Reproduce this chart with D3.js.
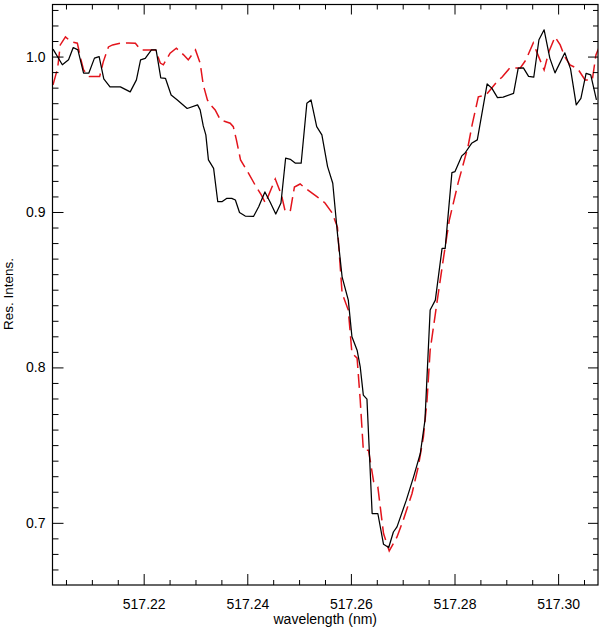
<!DOCTYPE html>
<html>
<head>
<meta charset="utf-8">
<script src="https://cdn.jsdelivr.net/npm/d3@7"></script>
<style>
  html, body { margin: 0; padding: 0; background: #fff; }
  svg { display: block; }
  text { font-family: "Liberation Sans", Arial, Helvetica, sans-serif; fill: #000; }
</style>
</head>
<body>
<svg id="chart" width="600" height="633"></svg>
<script>
// ---- data ----
const obsWave = [517.2025,517.2043,517.2055,517.2064,517.2073,517.2084,517.2094,517.2105,517.2114,517.2123,
  517.2135,517.2155,517.2174,517.2186,517.2194,517.2203,517.2215,517.2224,517.2233,517.2242,
  517.2253,517.2265,517.2284,517.2304,517.2309,517.2315,517.2320,517.2325,517.2335,517.2343,
  517.2351,517.2360,517.2370,517.2377,517.2385,517.2396,517.2412,517.2422,517.2434,517.2444,
  517.2455,517.2465,517.2474,517.2483,517.2493,517.2504,517.2515,517.2523,517.2534,517.2544,
  517.2555,517.2565,517.2574,517.2583,517.2595,517.2602,517.2612,517.2618,517.2624,517.2631,
  517.2641,517.2652,517.2663,517.2673,517.2682,517.2689,517.2707,517.2721,517.2734,517.2743,
  517.2753,517.2763,517.2776,517.2782,517.2795,517.2801,517.2814,517.2820,517.2833,517.2844,
  517.2863,517.2872,517.2883,517.2894,517.2914,517.2923,517.2933,517.2943,517.2953,517.2963,
  517.2973,517.2984,517.2994,517.3013,517.3024,517.3035,517.3044,517.3054,517.3063,517.3074];
const obsInt = [1.0048,0.9947,0.9979,1.0058,1.0043,0.9893,0.9893,0.9990,1.0000,0.9856,
  0.9805,0.9805,0.9773,0.9850,0.9979,0.9988,1.0043,1.0043,0.9863,0.9860,
  0.9753,0.9721,0.9666,0.9689,0.9657,0.9554,0.9496,0.9335,0.9281,0.9066,
  0.9066,0.9087,0.9088,0.9077,0.8997,0.8974,0.8971,0.9034,0.9129,0.9064,
  0.8987,0.9058,0.9346,0.9339,0.9314,0.9314,0.9700,0.9721,0.9549,0.9496,
  0.9292,0.9185,0.8863,0.8583,0.8433,0.8197,0.8111,0.8004,0.7822,0.7796,
  0.7060,0.7060,0.6862,0.6841,0.6941,0.6974,0.7146,0.7296,0.7446,0.7661,
  0.8369,0.8433,0.8766,0.8766,0.9253,0.9260,0.9361,0.9378,0.9442,0.9464,
  0.9824,0.9797,0.9736,0.9739,0.9763,0.9925,0.9927,0.9873,0.9867,1.0108,
  1.0172,0.9990,0.9895,1.0024,0.9921,0.9689,0.9731,0.9892,0.9882,0.9721];

const synWave = [517.2025,517.2034,517.2039,517.2049,517.2059,517.2072,517.2078,517.2084,517.2095,517.2115,
  517.2122,517.2132,517.2140,517.2155,517.2171,517.2184,517.2194,517.2213,517.2223,517.2232,
  517.2238,517.2251,517.2263,517.2277,517.2286,517.2300,517.2309,517.2315,517.2323,517.2329,
  517.2338,517.2348,517.2367,517.2373,517.2379,517.2387,517.2402,517.2415,517.2427,517.2435,
  517.2454,517.2466,517.2473,517.2483,517.2491,517.2502,517.2514,517.2535,517.2550,517.2564,
  517.2574,517.2583,517.2595,517.2602,517.2612,517.2618,517.2624,517.2634,517.2644,517.2652,
  517.2663,517.2674,517.2689,517.2701,517.2718,517.2730,517.2740,517.2747,517.2753,517.2766,
  517.2779,517.2790,517.2807,517.2826,517.2834,517.2846,517.2861,517.2880,517.2892,517.2907,
  517.2927,517.2938,517.2952,517.2961,517.2973,517.2982,517.2994,517.3004,517.3013,517.3023,
  517.3038,517.3052,517.3066,517.3073,517.3081];
const synInt = [0.9818,0.9927,1.0075,1.0127,1.0097,1.0086,0.9992,0.9914,0.9871,0.9871,
  0.9966,1.0062,1.0075,1.0086,1.0088,1.0086,1.0043,1.0043,1.0043,0.9958,
  0.9947,1.0022,1.0054,1.0011,0.9979,1.0043,0.9958,0.9818,0.9721,0.9689,
  0.9657,0.9592,0.9571,0.9549,0.9464,0.9335,0.9251,0.9174,0.9110,0.9058,
  0.9212,0.9110,0.9006,0.9006,0.9161,0.9180,0.9148,0.9097,0.9058,0.8993,
  0.8903,0.8478,0.8369,0.8092,0.8060,0.7790,0.7467,0.7467,0.7263,0.7231,
  0.6931,0.6819,0.6909,0.7017,0.7189,0.7360,0.7553,0.7789,0.8111,0.8414,
  0.8710,0.8948,0.9187,0.9419,0.9560,0.9741,0.9753,0.9831,0.9869,0.9927,
  0.9927,0.9979,1.0088,1.0011,0.9914,1.0030,1.0127,1.0075,0.9998,0.9947,
  0.9921,0.9850,0.9850,1.0011,1.0075];

const xMajorTicks = [517.22, 517.24, 517.26, 517.28, 517.30];
const xTickLabels = ["517.22", "517.24", "517.26", "517.28", "517.30"];
const yMajorTicks = [0.7, 0.8, 0.9, 1.0];
const yTickLabels = ["0.7", "0.8", "0.9", "1.0"];
const xDomain = [517.2024, 517.3077];
const yDomain = [0.66, 1.0335];

// ---- layout ----
const L = 52.5, R = 598, T = 4.5, B = 585;
const svg = d3.select("#chart");
const x = d3.scaleLinear().domain(xDomain).range([L, R]);
const y = d3.scaleLinear().domain(yDomain).range([B, T]);

// minor ticks
const xMinor = d3.range(517.200, 517.310, 0.005).map(v => +v.toFixed(3))
  .filter(v => v > xDomain[0] && v < xDomain[1] && !xMajorTicks.some(m => Math.abs(m - v) < 1e-6));
const yMinor = d3.range(0.66, 1.04, 0.01).map(v => +v.toFixed(2))
  .filter(v => v > yDomain[0] && v < yDomain[1] && !yMajorTicks.some(m => Math.abs(m - v) < 1e-6));

// clip
svg.append("defs").append("clipPath").attr("id", "plotclip")
  .append("rect").attr("x", L).attr("y", T).attr("width", R - L).attr("height", B - T);

// data lines
const line = d3.line().x(d => x(d[0])).y(d => y(d[1]));
const plot = svg.append("g").attr("clip-path", "url(#plotclip)");
plot.append("path")
  .datum(synWave.map((w, i) => [w, synInt[i]]))
  .attr("d", line).attr("fill", "none")
  .attr("stroke", "#e3141c").attr("stroke-width", 1.5)
  .attr("stroke-dasharray", "14,6");
plot.append("path")
  .datum(obsWave.map((w, i) => [w, obsInt[i]]))
  .attr("d", line).attr("fill", "none")
  .attr("stroke", "#000").attr("stroke-width", 1.25)
  .attr("stroke-linejoin", "round");

// axes helper
function styleAxis(g) {
  g.select(".domain").remove();
  g.selectAll("line").attr("stroke", "#000").attr("stroke-width", 1);
  g.selectAll("text").style("font-size", "14px").attr("fill", "#000")
   .style("font-family", '"Liberation Sans", Arial, Helvetica, sans-serif');
}
// bottom
svg.append("g").attr("transform", `translate(0,${B})`)
  .call(d3.axisBottom(x).tickValues(xMajorTicks).tickSize(-11).tickPadding(14.5)
    .tickFormat((d, i) => xTickLabels[i])).call(styleAxis);
svg.append("g").attr("transform", `translate(0,${B})`)
  .call(d3.axisBottom(x).tickValues(xMinor).tickSize(-5).tickFormat("")).call(styleAxis);
// top
svg.append("g").attr("transform", `translate(0,${T})`)
  .call(d3.axisTop(x).tickValues(xMajorTicks).tickSize(-10).tickFormat("")).call(styleAxis);
svg.append("g").attr("transform", `translate(0,${T})`)
  .call(d3.axisTop(x).tickValues(xMinor).tickSize(-5).tickFormat("")).call(styleAxis);
// left
svg.append("g").attr("transform", `translate(${L},0)`)
  .call(d3.axisLeft(y).tickValues(yMajorTicks).tickSize(-11).tickPadding(7)
    .tickFormat((d, i) => yTickLabels[i])).call(styleAxis);
svg.append("g").attr("transform", `translate(${L},0)`)
  .call(d3.axisLeft(y).tickValues(yMinor).tickSize(-6).tickFormat("")).call(styleAxis);
// right
svg.append("g").attr("transform", `translate(${R},0)`)
  .call(d3.axisRight(y).tickValues(yMajorTicks).tickSize(-10).tickFormat("")).call(styleAxis);
svg.append("g").attr("transform", `translate(${R},0)`)
  .call(d3.axisRight(y).tickValues(yMinor).tickSize(-5).tickFormat("")).call(styleAxis);

// frame
svg.append("rect").attr("x", L).attr("y", T).attr("width", R - L).attr("height", B - T)
  .attr("fill", "none").attr("stroke", "#000").attr("stroke-width", 1.2);

// titles
svg.append("text").attr("x", (L + R) / 2).attr("y", 624)
  .attr("text-anchor", "middle").style("font-size", "14px").text("wavelength (nm)");
svg.append("text").attr("transform", "translate(13,294) rotate(-90)")
  .attr("text-anchor", "middle").style("font-size", "13.5px").text("Res. Intens.");
</script>
</body>
</html>
